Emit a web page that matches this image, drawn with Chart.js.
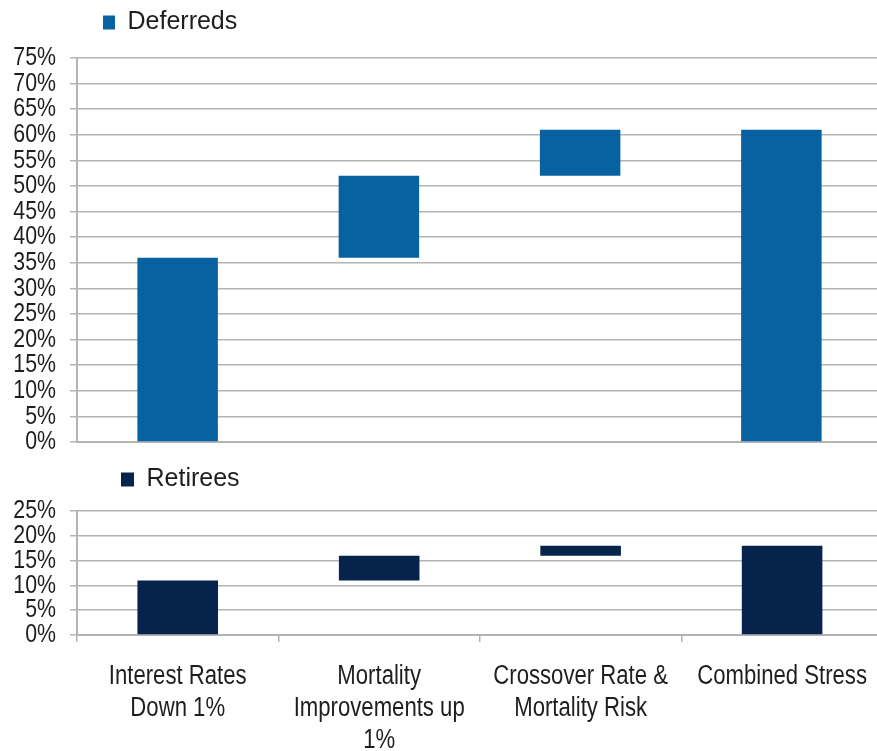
<!DOCTYPE html>
<html>
<head>
<meta charset="utf-8">
<script src="https://cdn.jsdelivr.net/npm/chart.js@4.4.1/dist/chart.umd.min.js"></script>
<style>
  html, body { margin: 0; padding: 0; background: #fff; overflow: hidden; }
  #wrap { position: relative; width: 877px; height: 751px; overflow: hidden; }
  canvas { position: absolute; left: 0; }
  #c1 { top: 0; }
  #c2 { top: 455px; }
</style>
</head>
<body>
<div id="wrap">
  <canvas id="c1" width="882" height="469"></canvas>
  <canvas id="c2" width="886" height="299"></canvas>
</div>
<script>
// ---- data ----
const categories = [
  ['Interest Rates', 'Down 1%'],
  ['Mortality', 'Improvements up', '1%'],
  ['Crossover Rate &', 'Mortality Risk'],
  ['Combined Stress']
];
const deferredStart = [0, 36, 52, 0];
const deferredEnd   = [36, 52, 61, 61];
const retireeStart  = [0, 11, 16, 0];
const retireeEnd    = [11, 16, 18, 18];
const deferredLabel = 'Deferreds';
const retireeLabel  = 'Retirees';
const deferredTicks = { min: 0, max: 75, step: 5 };
const retireeTicks  = { min: 0, max: 25, step: 5 };

const FONT = "'Liberation Sans', Arial, sans-serif";
const GRID = '#b4b4b4';
const TEXT = '#1e1e1e';
const NARROW = 0.82; // axis text is set in a condensed face
const WIDE_TEXTS = [deferredLabel, retireeLabel];

// render axis text condensed (horizontal squeeze about the anchor point)
function condense(ctx) {
  const origFill = ctx.fillText.bind(ctx);
  const origMeasure = ctx.measureText.bind(ctx);
  ctx.fillText = function (text, x, y, maxWidth) {
    if (WIDE_TEXTS.includes(text)) {
      return maxWidth === undefined ? origFill(text, x, y) : origFill(text, x, y, maxWidth);
    }
    ctx.save();
    ctx.translate(x, y);
    ctx.scale(NARROW, 1);
    if (maxWidth === undefined) origFill(text, 0, 0); else origFill(text, 0, 0, maxWidth / NARROW);
    ctx.restore();
  };
  ctx.measureText = function (text) {
    const m = origMeasure(text);
    if (WIDE_TEXTS.includes(text)) return m;
    return {
      width: m.width * NARROW,
      actualBoundingBoxAscent: m.actualBoundingBoxAscent,
      actualBoundingBoxDescent: m.actualBoundingBoxDescent,
      actualBoundingBoxLeft: m.actualBoundingBoxLeft * NARROW,
      actualBoundingBoxRight: m.actualBoundingBoxRight * NARROW
    };
  };
  return ctx;
}

const legendPos = {
  id: 'legendPos',
  beforeDraw(chart, args, opts) {
    const lg = chart.legend;
    if (!lg) return;
    const w = lg.right - lg.left;
    const h = lg.bottom - lg.top;
    lg.left = opts.x; lg.right = opts.x + w;
    lg.top = opts.y; lg.bottom = opts.y + h;
  }
};

function makeChart(id, label, starts, ends, color, ticksCfg, isBottom, legendXY, padTop) {
  const data = starts.map((s, i) => [s, ends[i]]);
  const ctx = condense(document.getElementById(id).getContext('2d'));
  return new Chart(ctx, {
    type: 'bar',
    data: {
      labels: categories,
      datasets: [{
        label: label,
        data: data,
        backgroundColor: color,
        borderWidth: 0,
        barPercentage: 0.4,
        categoryPercentage: 1.0
      }]
    },
    plugins: [legendPos],
    options: {
      responsive: false,
      animation: false,
      devicePixelRatio: 1,
      layout: { padding: { top: padTop, left: 0, right: 0, bottom: 0 } },
      plugins: {
        legendPos: legendXY,
        tooltip: { enabled: false },
        legend: {
          display: true,
          position: 'top',
          align: 'start',
          labels: {
            boxWidth: legendXY.bw,
            boxHeight: 14,
            padding: 0,
            color: TEXT,
            font: { family: FONT, size: 25 }
          }
        }
      },
      scales: {
        x: {
          type: 'category',
          grid: {
            display: isBottom,
            drawOnChartArea: false,
            drawTicks: true,
            tickLength: 7,
            offset: true,
            color: GRID,
            lineWidth: 1.5
          },
          border: { display: true, color: GRID, width: 2 },
          ticks: {
            display: isBottom,
            autoSkip: false,
            maxRotation: 0,
            minRotation: 0,
            padding: 19,
            color: TEXT,
            font: { family: FONT, size: 27, lineHeight: 1.185 }
          },
          afterFit(s) { s.height = isBottom ? 119 : 14; }
        },
        y: {
          type: 'linear',
          min: ticksCfg.min,
          max: ticksCfg.max,
          grid: {
            color: GRID,
            lineWidth: 1.5,
            tickLength: 7,
            drawTicks: true
          },
          border: { display: true, color: GRID, width: 2 },
          ticks: {
            stepSize: ticksCfg.step,
            autoSkip: false,
            padding: 14,
            color: TEXT,
            font: { family: FONT, size: 26, lineHeight: 1 },
            callback: v => v + '%'
          },
          afterFit(s) { s.width = 77; }
        }
      }
    }
  });
}

makeChart('c1', deferredLabel, deferredStart, deferredEnd, '#0862a1', deferredTicks, false, { x: 103, y: 10, bw: 12 }, 23);
makeChart('c2', retireeLabel, retireeStart, retireeEnd, '#06244b', retireeTicks, true, { x: 121, y: 12, bw: 13 }, 21);
</script>
</body>
</html>
